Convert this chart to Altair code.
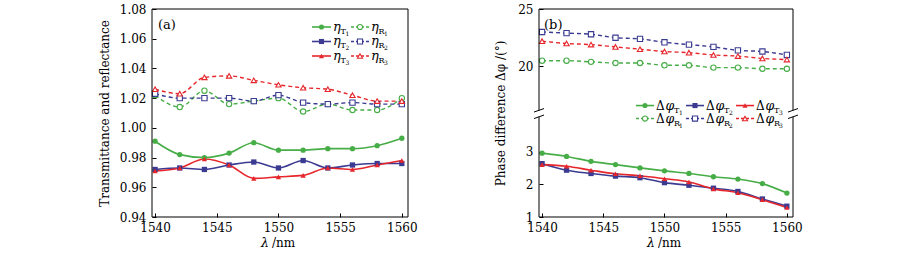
import altair as alt
import pandas as pd

# ---------------- data ----------------
wavelength = [1540, 1542, 1544, 1546, 1548, 1550, 1552, 1554, 1556, 1558, 1560]

eta_T1 = [0.991, 0.982, 0.980, 0.983, 0.990, 0.985, 0.985, 0.986, 0.986, 0.988, 0.993]
eta_T2 = [0.972, 0.973, 0.972, 0.975, 0.977, 0.973, 0.978, 0.973, 0.975, 0.976, 0.976]
eta_T3 = [0.971, 0.973, 0.979, 0.975, 0.966, 0.967, 0.968, 0.973, 0.972, 0.975, 0.978]
eta_R1 = [1.022, 1.014, 1.025, 1.016, 1.018, 1.020, 1.011, 1.016, 1.012, 1.012, 1.020]
eta_R2 = [1.023, 1.020, 1.020, 1.020, 1.018, 1.022, 1.017, 1.016, 1.017, 1.016, 1.016]
eta_R3 = [1.026, 1.023, 1.034, 1.035, 1.032, 1.029, 1.027, 1.026, 1.022, 1.018, 1.018]

dphi_T1 = [2.95, 2.85, 2.70, 2.60, 2.50, 2.41, 2.33, 2.23, 2.16, 2.02, 1.73]
dphi_T2 = [2.63, 2.43, 2.33, 2.25, 2.20, 2.05, 1.97, 1.88, 1.78, 1.55, 1.33]
dphi_T3 = [2.60, 2.55, 2.43, 2.32, 2.26, 2.17, 2.07, 1.86, 1.74, 1.53, 1.29]
dphi_R1 = [20.5, 20.5, 20.4, 20.3, 20.3, 20.1, 20.1, 19.9, 19.9, 19.8, 19.8]
dphi_R2 = [23.0, 22.9, 22.8, 22.5, 22.4, 22.1, 21.9, 21.7, 21.4, 21.3, 21.0]
dphi_R3 = [22.2, 22.0, 21.9, 21.7, 21.5, 21.3, 21.2, 21.0, 20.9, 20.7, 20.6]

x_ticks = [1540, 1545, 1550, 1555, 1560]
eta_ticks = [0.94, 0.96, 0.98, 1.00, 1.02, 1.04, 1.06, 1.08]
phase_ticks_low = [1, 2, 3]
phase_ticks_high = [20, 25]

# ---------------- style ----------------
GREEN, BLUE, RED = "#47ad47", "#3b3b92", "#e6262b"
GRP = ["1", "2", "3"]
COLS = [GREEN, BLUE, RED]
SHAPES = ["circle", "square", "triangle-up"]
FONT = "DejaVu Serif"
W_A, W_B, H = 256, 254, 208

# broken-axis mapping for panel (b)
B_LO, B_HI, R = 4.16, 15.9, 0.351


def brk(v):
    return v if v < 10 else B_LO + (v - B_HI) * R


def long_df(d):
    rows = []
    for (kind, grp), vals in d.items():
        for w, v in zip(wavelength, vals):
            rows.append({"wl": w, "v": v, "kind": kind, "grp": grp, "s": kind + grp})
    return pd.DataFrame(rows)


df_a = long_df({("T", "1"): eta_T1, ("T", "2"): eta_T2, ("T", "3"): eta_T3,
                ("R", "1"): eta_R1, ("R", "2"): eta_R2, ("R", "3"): eta_R3})
df_b = long_df({("T", "1"): dphi_T1, ("T", "2"): dphi_T2, ("T", "3"): dphi_T3,
                ("R", "1"): dphi_R1, ("R", "2"): dphi_R2, ("R", "3"): dphi_R3})

xscale = alt.Scale(domain=[1539.75, 1560.5], nice=False, zero=False)
xaxis = alt.Axis(values=x_ticks, format="d", title=None, domain=False, grid=False,
                 tickSize=4, offset=-4, labelPadding=5)


def series_layers(base, yfield, yscale, yaxis):
    x = alt.X("wl:Q", scale=xscale, axis=xaxis)
    y = alt.Y(f"{yfield}:Q", scale=yscale, axis=yaxis)
    color = alt.Color("grp:N", scale=alt.Scale(domain=GRP, range=COLS), legend=None)
    shape = alt.Shape("grp:N", scale=alt.Scale(domain=GRP, range=SHAPES), legend=None)
    T = base.transform_filter("datum.kind == 'T'")
    Rr = base.transform_filter("datum.kind == 'R'")
    lt = T.mark_line(interpolate="monotone", strokeWidth=1.6).encode(x=x, y=y, color=color, detail="s:N")
    lr = Rr.mark_line(interpolate="monotone", strokeWidth=1.4, strokeDash=[4, 3]).encode(
        x=x, y=y, color=color, detail="s:N")
    pt = T.mark_point(filled=True, size=28, opacity=1).encode(x=x, y=y, color=color, shape=shape)
    pr = Rr.mark_point(filled=False, fill="white", fillOpacity=1, size=28, strokeWidth=1.1,
                       opacity=1).encode(x=x, y=y, color=color, shape=shape)
    return [lr, lt, pr, pt]


def px(field):
    return alt.X(f"{field}:Q", scale=None, axis=None)


def py(field):
    return alt.Y(f"{field}:Q", scale=None, axis=None)


def rules(df, **kw):
    return alt.Chart(df).mark_rule(**kw).encode(
        x=px("x"), x2="x2:Q", y=py("y"), y2="y2:Q", color=alt.Color("c:N", scale=None))


def points(df, filled):
    kw = dict(filled=True, size=26, opacity=1) if filled else dict(
        filled=False, fill="white", fillOpacity=1, size=26, strokeWidth=1.1, opacity=1)
    return alt.Chart(df).mark_point(**kw).encode(
        x=px("x"), y=py("y"), color=alt.Color("c:N", scale=None),
        shape=alt.Shape("sh:N", scale=None))


def texts(df, size, italic=False, align="left"):
    kw = dict(align=align, baseline="alphabetic", font=FONT, fontSize=size, color="black")
    if italic:
        kw["fontStyle"] = "italic"
    return alt.Chart(df).mark_text(**kw).encode(x=px("x"), y=py("y"), text="t:N")


def x_title(xc):
    lam = pd.DataFrame({"x": [xc], "y": [H + 30], "t": ["λ"]})
    unit = pd.DataFrame({"x": [xc + 3], "y": [H + 30], "t": ["/nm"]})
    return [texts(lam, 12.5, italic=True, align="right"), texts(unit, 12)]


# ---------------- panel (a) ----------------
ya_scale = alt.Scale(domain=[0.94, 1.08], nice=False, zero=False)
ya_axis = alt.Axis(values=eta_ticks, format=".2f", title="Transmittance and reflectance",
                   domain=False, grid=False, tickSize=4, offset=-4, labelPadding=6, titlePadding=8)

frame_a = pd.DataFrame({"x": [0, 0, 0, W_A], "x2": [W_A, W_A, 0, W_A],
                        "y": [0, H, 0, 0], "y2": [0, H, H, H], "c": ["black"] * 4})

rows_a = [18, 32.5, 47]
la_solid, la_dash, la_pf, la_po, la_main, la_sub, la_dig = [], [], [], [], [], [], []
for i, ry in enumerate(rows_a):
    c, sh, g = COLS[i], SHAPES[i], GRP[i]
    la_solid.append({"x": 160, "x2": 179, "y": ry, "y2": ry, "c": c})
    la_dash.append({"x": 199, "x2": 217, "y": ry, "y2": ry, "c": c})
    la_pf.append({"x": 169.5, "y": ry, "c": c, "sh": sh})
    la_po.append({"x": 208, "y": ry, "c": c, "sh": sh})
    la_main += [{"x": 181, "y": ry + 3.5, "t": "η"}, {"x": 219, "y": ry + 3.5, "t": "η"}]
    la_sub += [{"x": 188.5, "y": ry + 6.5, "t": "T"}, {"x": 226.5, "y": ry + 6.5, "t": "R"}]
    la_dig += [{"x": 193.5, "y": ry + 8.5, "t": g}, {"x": 232, "y": ry + 8.5, "t": g}]

label_a = pd.DataFrame({"x": [6], "y": [20], "t": ["(a)"]})

panel_a = alt.layer(
    *series_layers(alt.Chart(df_a), "v", ya_scale, ya_axis),
    rules(frame_a, strokeWidth=1),
    rules(pd.DataFrame(la_solid), strokeWidth=1.6),
    rules(pd.DataFrame(la_dash), strokeWidth=1.4, strokeDash=[3, 2]),
    points(pd.DataFrame(la_pf), True),
    points(pd.DataFrame(la_po), False),
    texts(pd.DataFrame(la_main), 13, italic=True),
    texts(pd.DataFrame(la_sub), 8),
    texts(pd.DataFrame(la_dig), 6),
    texts(label_a, 13),
    *x_title(117),
).properties(width=W_A, height=H)

# ---------------- panel (b) ----------------
yb_vals = phase_ticks_low + [brk(v) for v in phase_ticks_high]
yb_scale = alt.Scale(domain=[1, brk(25)], nice=False, zero=False)
yb_axis = alt.Axis(values=yb_vals, title="Phase difference Δφ /(°)",
                   labelExpr=f"datum.value < 4 ? format(datum.value, 'd') : "
                             f"format(round((datum.value - {B_LO}) / {R} + {B_HI}), 'd')",
                   domain=False, grid=False, tickSize=4, offset=-4, labelPadding=6, titlePadding=10)

base_b = alt.Chart(df_b).transform_calculate(
    yt=f"datum.v < 10 ? datum.v : {B_LO} + (datum.v - {B_HI}) * {R}")

yb_break = H * (brk(25) - B_LO) / (brk(25) - 1)
g1, g2 = yb_break - 3.25, yb_break + 3.25
frame_b = pd.DataFrame({
    "x": [0, 0, 0, 0, W_B, W_B],
    "x2": [W_B, W_B, 0, 0, W_B, W_B],
    "y": [0, H, 0, g2, 0, g2],
    "y2": [0, H, g1, H, g1, H],
    "c": ["black"] * 6})
slashes = []
for xc in (0, W_B):
    for yc in (g1, g2):
        slashes.append({"x": xc - 5, "x2": xc + 5, "y": yc + 1.75, "y2": yc - 1.75, "c": "black"})

rows_b = [yb_break - 8, yb_break + 5]
cols_b = [97, 147, 197]
lb_solid, lb_dash, lb_pf, lb_po, lb_delta, lb_phi, lb_sub, lb_dig = [], [], [], [], [], [], [], []
for i, cx in enumerate(cols_b):
    c, sh, g = COLS[i], SHAPES[i], GRP[i]
    for j, (ry, kind) in enumerate(zip(rows_b, ["T", "R"])):
        seg = {"x": cx, "x2": cx + 18, "y": ry, "y2": ry, "c": c}
        pt = {"x": cx + 9, "y": ry, "c": c, "sh": sh}
        if kind == "T":
            lb_solid.append(seg)
            lb_pf.append(pt)
        else:
            lb_dash.append(seg)
            lb_po.append(pt)
        lb_delta.append({"x": cx + 20, "y": ry + 4.5, "t": "Δ"})
        lb_phi.append({"x": cx + 29.5, "y": ry + 4, "t": "φ"})
        lb_sub.append({"x": cx + 38, "y": ry + 7, "t": kind})
        lb_dig.append({"x": cx + 43, "y": ry + 9, "t": g})

label_b = pd.DataFrame({"x": [5], "y": [20], "t": ["(b)"]})

panel_b = alt.layer(
    *series_layers(base_b, "yt", yb_scale, yb_axis),
    rules(frame_b, strokeWidth=1),
    rules(pd.DataFrame(slashes), strokeWidth=1),
    rules(pd.DataFrame(lb_solid), strokeWidth=1.6),
    rules(pd.DataFrame(lb_dash), strokeWidth=1.4, strokeDash=[3, 2]),
    points(pd.DataFrame(lb_pf), True),
    points(pd.DataFrame(lb_po), False),
    texts(pd.DataFrame(lb_delta), 12),
    texts(pd.DataFrame(lb_phi), 12.5, italic=True),
    texts(pd.DataFrame(lb_sub), 8),
    texts(pd.DataFrame(lb_dig), 6),
    texts(label_b, 13),
    *x_title(116),
).properties(width=W_B, height=H)

chart = alt.hconcat(panel_a, panel_b, spacing=76).properties(
    padding={"left": 98, "top": 3, "right": 0, "bottom": 0}
).configure_view(stroke=None).configure_axis(
    labelFont=FONT, labelFontSize=12, labelColor="black",
    titleFont=FONT, titleFontSize=12, titleFontWeight="normal", titleColor="black",
    tickColor="black", tickWidth=1,
)

chart.save("out.html", embed_options={"renderer": "svg", "actions": False})
